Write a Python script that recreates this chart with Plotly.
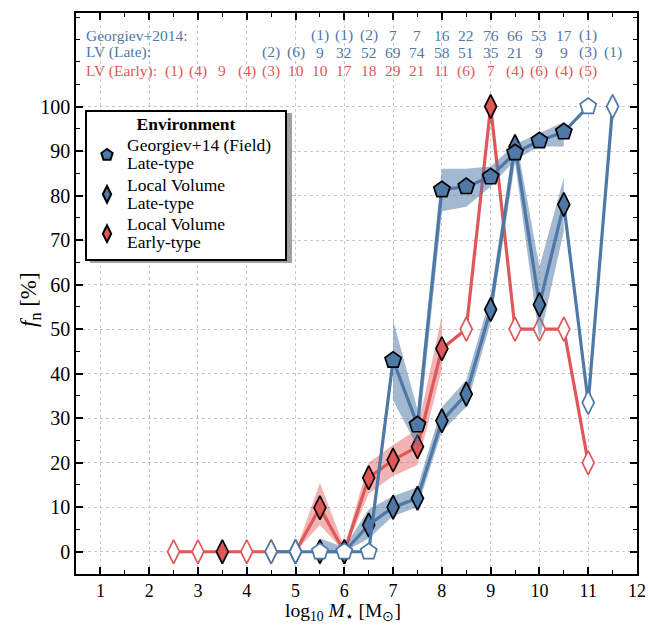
import plotly.graph_objects as go

BLUE = "#4E79A7"
RED = "#E15759"
BLUE_BAND = "rgba(78,121,167,0.52)"
RED_BAND = "rgba(225,87,89,0.45)"
FONT = "Liberation Serif"

# ---------------- data ----------------
# Georgiev+14 (field, late-type)
geo_x = [5.5, 6, 6.5, 7, 7.5, 8, 8.5, 9, 9.5, 10, 10.5, 11]
geo_y = [0, 0, 0, 43, 28.5, 81.3, 82, 84.2, 89.6, 92.3, 94.3, 100]
geo_open = [True, True, True, False, False, False, False, False, False, False, False, True]
geo_counts = ["(1)", "(1)", "(2)", "7", "7", "16", "22", "76", "66", "53", "17", "(1)"]
geo_band_x = [7, 7.5, 8, 8.5, 9, 9.5, 10, 10.5]
geo_band_lo = [34, 23.5, 76.5, 77.5, 82, 88, 91, 91]
geo_band_hi = [52, 32, 86, 86, 86.5, 91.5, 94, 96.5]

# Local Volume late-type
late_x = [4.5, 5, 5.5, 6, 6.5, 7, 7.5, 8, 8.5, 9, 9.5, 10, 10.5, 11, 11.5]
late_y = [0, 0, 0, 0, 6, 10, 12, 29.4, 35.4, 54.4, 91, 55.5, 78, 33.5, 100]
late_open = [True, True, False, False, False, False, False, False, False, False, False, False, False, True, True]
late_counts = ["(2)", "(6)", "9", "32", "52", "69", "74", "58", "51", "35", "21", "9", "9", "(3)", "(1)"]
late_band_x = [5.5, 6, 6.5, 7, 7.5, 8, 8.5, 9, 9.5, 10, 10.5]
late_band_lo = [0, 0, 3, 8, 10, 27, 32.5, 51.5, 87.5, 47.5, 72]
late_band_hi = [3, 1, 9.5, 12.5, 14.5, 32.5, 38.5, 57.5, 94, 64, 84]

# Local Volume early-type
early_x = [2.5, 3, 3.5, 4, 4.5, 5, 5.5, 6, 6.5, 7, 7.5, 8, 8.5, 9, 9.5, 10, 10.5, 11]
early_y = [0, 0, 0, 0, 0, 0, 9.9, 0, 16.6, 20.6, 23.6, 45.6, 50, 100, 50, 50, 50, 20]
early_open = [True, True, False, True, True, False, False, False, False, False, False, False, True, False, True, True, True, True]
early_counts = ["(1)", "(4)", "9", "(4)", "(3)", "10", "10", "17", "18", "29", "21", "11", "(6)", "7", "(4)", "(6)", "(4)", "(5)"]
early_band_x = [5, 5.5, 6, 6.5, 7, 7.5, 8]
early_band_lo = [0, 6, 0, 13, 17, 19.5, 41]
early_band_hi = [0, 15.5, 1, 20, 24, 27.5, 53]

row_labels = ["Georgiev+2014:", "LV (Late):", "LV (Early):"]
row_y = [116.0, 112.2, 108.0]

legend_lines = [["Georgiev+14 (Field)&nbsp;&nbsp;", "Late-type"], ["Local Volume", "Late-type"],
                ["Local Volume", "Early-type"]]

fig = go.Figure()


def band(xs, lo, hi, color):
    fig.add_trace(go.Scatter(x=list(xs) + list(xs)[::-1], y=list(hi) + list(lo)[::-1],
                             fill="toself", fillcolor=color, mode="none",
                             line=dict(width=0), showlegend=False, hoverinfo="skip"))


def series(xs, ys, opens, color, symbol, size):
    fig.add_trace(go.Scatter(
        x=xs, y=ys, mode="lines+markers", showlegend=False,
        line=dict(color=color, width=3.2),
        marker=dict(symbol=symbol, size=size,
                    color=["white" if o else color for o in opens],
                    line=dict(color=[color if o else "black" for o in opens], width=1.7))))


band(early_band_x, early_band_lo, early_band_hi, RED_BAND)
series(early_x, early_y, early_open, RED, "diamond-tall", 17)
band(late_band_x, late_band_lo, late_band_hi, BLUE_BAND)
series(late_x, late_y, late_open, BLUE, "diamond-tall", 17)
band(geo_band_x, geo_band_lo, geo_band_hi, BLUE_BAND)
series(geo_x, geo_y, geo_open, BLUE, "pentagon", 17)

# legend entries
SPAN = '<span style="font-size:17.5px">%s</span>'
for lines, col, sym in zip(legend_lines, [BLUE, BLUE, RED], ["pentagon", "diamond-tall", "diamond-tall"]):
    name = "<br>".join(SPAN % l for l in lines)
    fig.add_trace(go.Scatter(x=[None], y=[None], mode="markers", name=name,
                             marker=dict(symbol=sym, size=15, color=col, line=dict(color="black", width=1.6))))

# count annotations
for lab, yy, col in zip(row_labels, row_y, [BLUE, BLUE, RED]):
    fig.add_annotation(x=0.66, y=yy, xref="x", yref="y", text=lab, showarrow=False,
                       xanchor="left", font=dict(family=FONT, size=15.5, color=col))
for xs, cs, yy, col in [(geo_x, geo_counts, row_y[0], BLUE), (late_x, late_counts, row_y[1], BLUE),
                        (early_x, early_counts, row_y[2], RED)]:
    for xv, c in zip(xs, cs):
        fig.add_annotation(x=xv, y=yy, xref="x", yref="y", text=c, showarrow=False,
                           font=dict(family=FONT, size=15.5, color=col))

# axis titles
fig.add_annotation(xref="paper", yref="paper", x=(30 - 76) / 561, y=(574 - 300) / 561,
                   xanchor="center", yanchor="middle",
                   text="<i>f</i><sub>n</sub> [%]", textangle=-90, showarrow=False,
                   font=dict(family=FONT, size=23, color="black"))
fig.add_annotation(xref="paper", yref="paper", x=(343 - 76) / 561, y=(574 - 612) / 561,
                   xanchor="center", yanchor="middle",
                   text="log<sub>10</sub> <i>M</i><sub>⋆</sub> [M<sub>⊙</sub>]", showarrow=False,
                   font=dict(family=FONT, size=19.5, color="black"))

# legend shadow
fig.add_shape(type="rect", xref="paper", yref="paper",
              x0=(90 - 76) / 561, x1=(292 - 76) / 561,
              y0=(574 - 263) / 561, y1=(574 - 113) / 561,
              fillcolor="#a0a0a0", line=dict(width=0), layer="above")

fig.update_layout(
    width=648, height=625,
    margin=dict(l=76, r=11, t=13, b=51),
    paper_bgcolor="white", plot_bgcolor="white",
    font=dict(family=FONT, size=20, color="black"),
    showlegend=True,
    legend=dict(x=(85 - 76) / 561, y=(574 - 110) / 561, xanchor="left", yanchor="top",
                bgcolor="white", bordercolor="black", borderwidth=2,
                font=dict(family=FONT, size=14),
                title=dict(text='<b><span style="font-size:17.5px">Environment</span></b>',
                           side="top center", font=dict(family=FONT, size=14)),
                itemsizing="constant", tracegroupgap=0),
)

fig.update_xaxes(range=[0.5, 12], tickmode="linear", tick0=1, dtick=1, automargin=False,
                 ticks="inside", ticklen=7, tickwidth=1.5, tickcolor="black",
                 minor=dict(dtick=0.5, tick0=0.5, ticks="inside", ticklen=4, tickwidth=1.2,
                            tickcolor="black", showgrid=False),
                 showline=True, linecolor="black", linewidth=1.6, mirror="allticks",
                 showgrid=True, gridcolor="#c8c8c8", griddash="dot", gridwidth=1,
                 zeroline=False, tickfont=dict(size=18))
fig.update_yaxes(range=[-5, 121], tickmode="array", tickvals=list(range(0, 101, 10)), automargin=False,
                 ticks="inside", ticklen=7, tickwidth=1.5, tickcolor="black",
                 minor=dict(dtick=5, tick0=0, ticks="inside", ticklen=4, tickwidth=1.2,
                            tickcolor="black", showgrid=False),
                 showline=True, linecolor="black", linewidth=1.6, mirror="allticks",
                 showgrid=True, gridcolor="#c8c8c8", griddash="dot", gridwidth=1,
                 zeroline=False, tickfont=dict(size=20))

fig.write_html("out.html")
